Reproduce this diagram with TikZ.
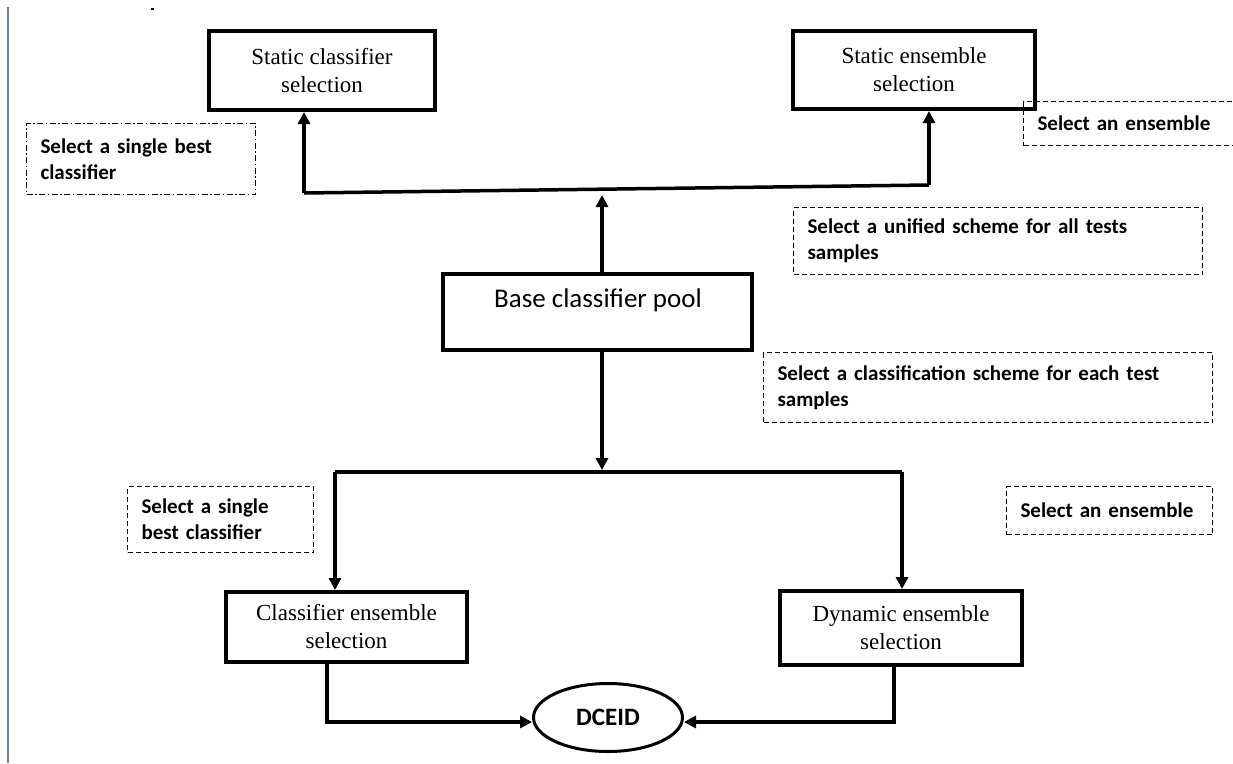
\documentclass[tikz,border=0pt]{standalone}
\usepackage{fontspec}
\setmainfont{Liberation Serif}
\newfontfamily\notefont[WordSpace=0.6]{Carlito}
\newfontfamily\calfont{Carlito}
\usetikzlibrary{arrows.meta,shapes.geometric}

\begin{document}
\begin{tikzpicture}[x=1pt,y=-1pt,
  mainbox/.style={draw, line width=4pt, inner sep=0pt, align=center,
    font=\fontsize{23}{28}\selectfont},
  note/.style={draw, line width=1.1pt, dash pattern=on 5pt off 3pt,
    anchor=north west, inner xsep=14pt, inner ysep=0pt, align=left,
    font=\notefont\bfseries\fontsize{21}{26}\selectfont},
  dashdot/.style={dash pattern=on 6pt off 2.5pt on 1.5pt off 2.5pt},
  link/.style={line width=3.5pt},
  arr/.style={link, -{Triangle[length=12pt,width=12pt]}},
  margin/.style={line width=2.5pt, draw={rgb,255:red,112;green,126;blue,152}}
]
\useasboundingbox (0,0) rectangle (1233,763);
\clip (0,0) rectangle (1233,763);

% page margin rule and stray mark
\draw[margin] (8,7) -- (8,763);
\fill (151,7.5) rectangle (153.5,10);

% main boxes
\node[mainbox, minimum width=226pt, minimum height=79pt] (scs) at (322,70.5)
  {Static classifier\\selection};
\node[mainbox, minimum width=242pt, minimum height=78pt] (ses) at (914,70)
  {Static ensemble\\selection};
\node[mainbox, minimum width=309pt, minimum height=76pt] (pool) at (597.5,312) {};
\node[font=\calfont\fontsize{27}{32}\selectfont] (pooltxt) at (598,300)
  {Base classifier pool};
\node[mainbox, minimum width=241pt, minimum height=70pt] (ces) at (346.5,627)
  {Classifier ensemble\\selection};
\node[mainbox, minimum width=242pt, minimum height=74pt] (des) at (901,628)
  {Dynamic ensemble\\selection};
\node[draw, ellipse, line width=3pt, minimum width=149pt, minimum height=68pt,
  font=\calfont\bfseries\fontsize{25}{30}\selectfont] (dceid) at (608,717.5) {DCEID};

% dashed notes
\node[note, dashdot, text width=201pt, minimum height=71pt] (n1) at (26,123)
  {Select a single best\\classifier};
\node[note, text width=210pt, minimum height=44pt] (n2) at (1023,101)
  {Select an ensemble};
\node[note, text width=381pt, minimum height=67pt] (n3) at (793,207)
  {Select a unified scheme for all tests\\samples};
\node[note, text width=421pt, minimum height=70pt] (n4) at (763,352)
  {Select a classification scheme for each test\\samples};
\node[note, text width=158pt, minimum height=66pt] (n5) at (127,486)
  {Select a single\\best classifier};
\node[note, text width=178pt, minimum height=48pt] (n6) at (1006,486)
  {Select an ensemble};

% junction points
\coordinate (jl) at (304,193);
\coordinate (jr) at (929,185);
\coordinate (up) at (602,195);
\coordinate (dn) at (602,470);
\coordinate (bl) at (335,472);
\coordinate (br) at (902,472);
\coordinate (cl) at (327,722);
\coordinate (cr) at (894,722);

% upper (static) branch
\draw[link] (jl) -- (jr);
\draw[arr] (jl) -- (jl |- scs.south);
\draw[arr] (jr) -- (jr |- ses.south);
\draw[arr] (pool.north -| up) -- (up);

% lower (dynamic) branch
\draw[arr] (pool.south -| dn) -- (dn);
\draw[link] (bl) -- (br);
\draw[arr] (bl) -- (bl |- ces.north);
\draw[arr] (br) -- (br |- des.north);

% into DCEID
\draw[arr] (ces.south -| cl) -- (cl) -- (dceid.west |- cl);
\draw[arr] (des.south -| cr) -- (cr) -- (dceid.east |- cr);
\end{tikzpicture}
\end{document}
